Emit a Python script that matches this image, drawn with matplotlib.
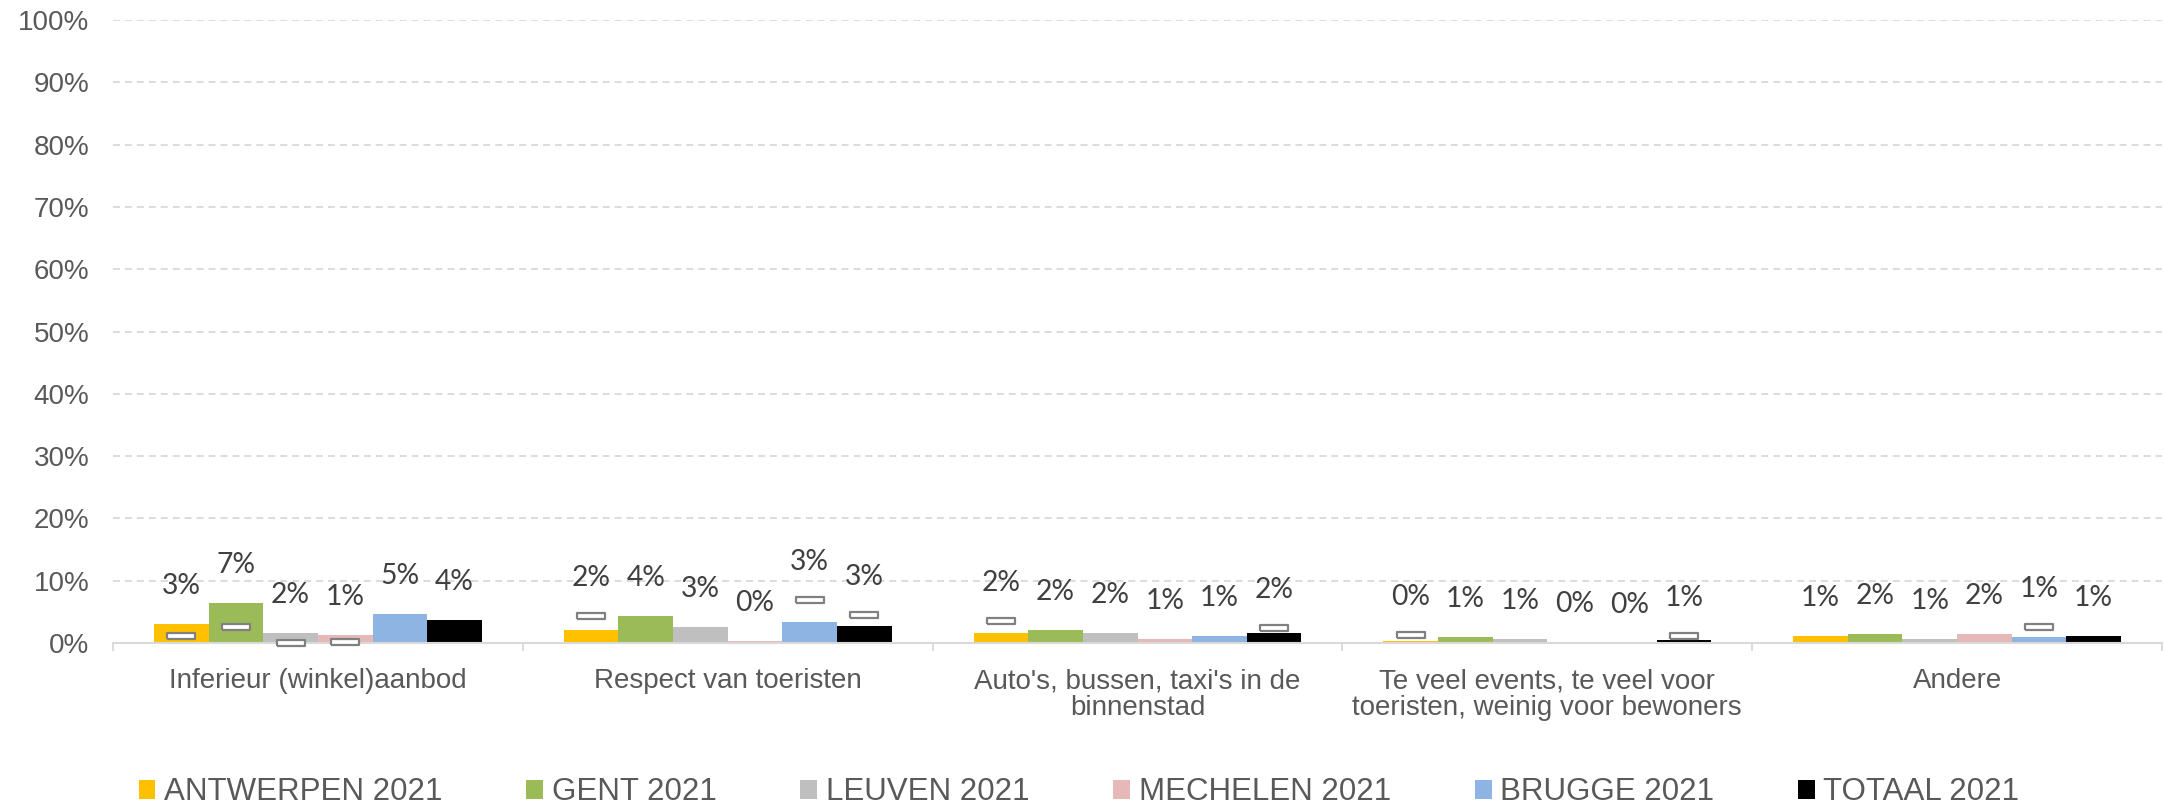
import math
import numpy as np
import matplotlib
matplotlib.use("Agg")
import matplotlib.pyplot as plt
from matplotlib.patches import Patch
from matplotlib.ticker import FixedLocator

# ---------------- data ----------------
categories = [
    "Inferieur (winkel)aanbod",
    "Respect van toeristen",
    "Auto's, bussen, taxi's in de\nbinnenstad",
    "Te veel events, te veel voor\ntoeristen, weinig voor bewoners",
    "Andere",
]
series_names = ["ANTWERPEN 2021", "GENT 2021", "LEUVEN 2021",
                "MECHELEN 2021", "BRUGGE 2021", "TOTAAL 2021"]

antwerpen = [3.0, 2.1, 1.6, 0.3, 1.2]
gent = [6.5, 4.4, 2.1, 1.0, 1.5]
leuven = [1.6, 2.6, 1.6, 0.6, 0.7]
mechelen = [1.3, 0.4, 0.6, 0.2, 1.5]
brugge = [4.6, 3.3, 1.2, 0.0, 1.0]
totaal = [3.7, 2.7, 1.55, 0.5, 1.2]

nan = float("nan")
# previous-measurement markers (white rectangles)
antwerpen_prev = [1.1, 4.4, 3.5, 1.3, nan]
gent_prev = [2.6, nan, nan, nan, nan]
leuven_prev = [0.0, nan, nan, nan, nan]
mechelen_prev = [0.2, nan, nan, nan, nan]
brugge_prev = [nan, 6.9, nan, nan, 2.5]
totaal_prev = [nan, 4.5, 2.35, 1.1, nan]

y_ticks = list(range(0, 101, 10))

# ---------------- style ----------------
colors = ["#FFC000", "#9BBB59", "#BFBFBF", "#E6B9B8", "#8EB4E3", "#000000"]
values = [antwerpen, gent, leuven, mechelen, brugge, totaal]
prevs = [antwerpen_prev, gent_prev, leuven_prev, mechelen_prev, brugge_prev, totaal_prev]

plt.rcParams["font.family"] = ["Liberation Sans", "DejaVu Sans"]
plt.rcParams["lines.scale_dashes"] = False

W, H = 2165, 808
fig = plt.figure(figsize=(W / 100, H / 100), dpi=100)
ax = fig.add_axes([113 / W, 1 - 643 / H, (2162 - 113) / W, 623 / H])

n = len(series_names)
x = np.arange(len(categories))
group = 6 / 7.5
bw = group / n

rect_marker = [(-4.5, -1), (4.5, -1), (4.5, 1), (-4.5, 1), (-4.5, -1)]

for i, (name, vals, prev, col) in enumerate(zip(series_names, values, prevs, colors)):
    xs = x + (i - (n - 1) / 2) * bw
    ax.bar(xs, vals, width=bw, color=col, label=name, zorder=2, linewidth=0)
    ax.plot(xs, prev, linestyle="none", marker=rect_marker, ms=19.5,
            mfc="white", mec="#808080", mew=1.6, zorder=4, clip_on=False)
    for xi, v, p in zip(xs, vals, prev):
        top = v if (p != p) else max(v, p)
        ax.annotate(f"{math.floor(v + 0.5)}%", (xi, top), xytext=(0, 38),
                    textcoords="offset pixels", ha="center", va="center",
                    fontsize=20.3, color="#404040", family=["Lato", "DejaVu Sans"],
                    zorder=5)

ax.set_xlim(-0.5, len(categories) - 0.5)
ax.set_ylim(0, 100)
ax.set_yticks(y_ticks)
ax.set_yticklabels([f"{t}%" for t in y_ticks])
ax.tick_params(axis="y", length=0, pad=17, labelsize=20, labelcolor="#595959")

ax.set_xticks(x)
ax.set_xticklabels(categories, linespacing=1.05)
ax.tick_params(axis="x", which="major", length=0, pad=18, labelsize=20, labelcolor="#595959")
ax.xaxis.set_minor_locator(FixedLocator(np.arange(-0.5, len(categories), 1.0)))
ax.tick_params(axis="x", which="minor", length=6, width=1.3, color="#D9D9D9", direction="out")

ax.yaxis.grid(True, color="#D9D9D9", linestyle=(0, (5, 3.6)), linewidth=1.3, zorder=0)
ax.set_axisbelow(True)
for s in ["top", "right", "left"]:
    ax.spines[s].set_visible(False)
ax.spines["bottom"].set_color("#D9D9D9")
ax.spines["bottom"].set_linewidth(1.5)
ax.spines["bottom"].set_zorder(3)

handles = [Patch(facecolor=c, edgecolor="none", label=nm) for nm, c in zip(series_names, colors)]
leg = fig.legend(handles=handles, loc="center", bbox_to_anchor=(1079 / W, 1 - 792.5 / H),
                 ncol=6, frameon=False, fontsize=22.5, handlelength=0.54, handleheight=0.54,
                 handletextpad=0.27, columnspacing=2.69, borderpad=0, borderaxespad=0)
for t in leg.get_texts():
    t.set_color("#595959")

fig.savefig("out.png", dpi=100)
